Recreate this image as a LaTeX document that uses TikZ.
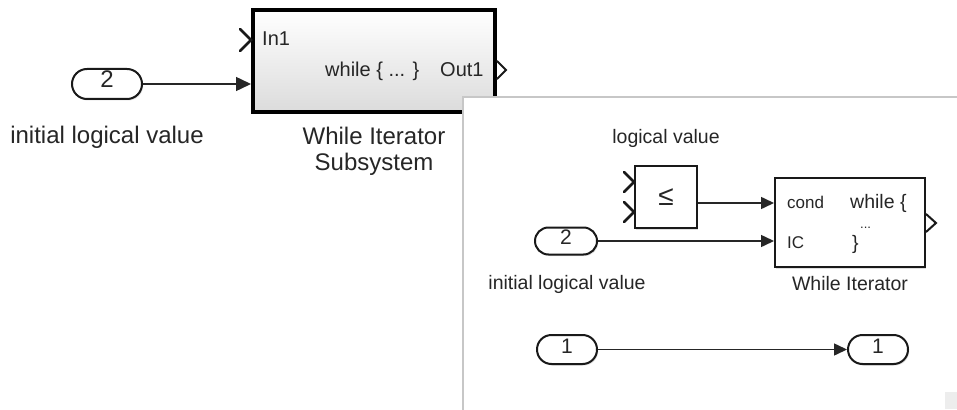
\documentclass[tikz,border=0pt]{standalone}
\usepackage{fontspec}
\setmainfont{Liberation Sans}
\usetikzlibrary{arrows.meta,shadows}
\newcommand\fsz[1]{\fontsize{#1}{#1}\selectfont}
\begin{document}
\begin{tikzpicture}[x=1pt,y=-1pt,
  lbl/.style={text=black!85, inner sep=0pt},
  pill/.style={draw=black!90, line width=2, fill=white, inner sep=0pt, text=black!85,
    text height=0.716em, text depth=0pt,
    drop shadow={shadow xshift=1.2pt, shadow yshift=-1.5pt, opacity=0.25}},
  blk/.style={draw=black!90, line width=2, fill=white, inner sep=0pt,
    drop shadow={shadow xshift=1.2pt, shadow yshift=-1.5pt, opacity=0.25}},
  conn/.style={draw=black!85, line width=1.5, -{Triangle[length=13pt,width=12pt]}},
  connL/.style={draw=black!85, line width=1.5, -{Triangle[length=15pt,width=14pt]}},
  chev/.style={draw=black!90, line width=2.8, line cap=round, line join=miter},
]
\fill[white] (0,0) rectangle (957,409);
\useasboundingbox (0,0) rectangle (957,409);

% ---------- left part ----------
\node[pill, minimum width=70, minimum height=30, rounded corners=15, font=\fsz{24}] (cL) at (107,84) {2};
\node[lbl, anchor=base, font=\fsz{24}] (labL) at (107,143) {initial logical value};

\node[draw=black, line width=4, minimum width=242, minimum height=102, inner sep=0,
      top color=white, bottom color=black!14] (sub) at (374,61) {};
\draw[connL] (cL.east) -- (cL.east -| sub.west);
\coordinate (subIn1) at (sub.west |- 0,40);
\draw[chev] (subIn1) ++(-11,-11) -- (subIn1) -- ++(-11,11);
\coordinate (subOut) at (sub.east |- 0,70);
\draw[chev, line width=2] (subOut) ++(0,-9) -- ++(9,9) -- ++(-9,9);
\node[lbl, anchor=base west, font=\fsz{20}] (in1) at (262,46) {In1};
\node[lbl, anchor=base west, font=\fsz{20}] (whl) at (325,77) {while \{ ... \}};
\node[lbl, anchor=base west, font=\fsz{20}] (out1) at (440,77) {Out1};
\node[lbl, anchor=base, font=\fsz{24}] (subl1) at (374,144) {While Iterator};
\node[lbl, anchor=base, font=\fsz{24}] (subl2) at (374,170) {Subsystem};

% ---------- inset panel ----------
\draw[draw=black!22, line width=2, fill=white] (463,97) rectangle (962,414);
\fill[black!7] (945,392) rectangle (957,409);

\node[lbl, anchor=base, font=\fsz{19.5}] (lv) at (666,143) {logical value};
\node[blk, minimum width=62, minimum height=62, font=\fsz{28}, text=black!85] (rel) at (666,197) {≤};
\coordinate (relIn1) at (rel.west |- 0,182);
\coordinate (relIn2) at (rel.west |- 0,212);
\draw[chev] (relIn1) ++(-10,-10) -- (relIn1) -- ++(-10,10);
\draw[chev] (relIn2) ++(-10,-10) -- (relIn2) -- ++(-10,10);

\node[blk, minimum width=150, minimum height=89] (wi) at (850,222.5) {};
\coordinate (wiCond) at (wi.west |- 0,203);
\coordinate (wiIC) at (wi.west |- 0,241);
\coordinate (wiOut) at (wi.east |- 0,223);
\draw[chev, line width=2] (wiOut) ++(0,-9) -- ++(10,9) -- ++(-10,9);
\draw[conn] (rel.east |- wiCond) -- (wiCond);

\node[pill, minimum width=62, minimum height=27, rounded corners=13.5, font=\fsz{21}] (c2) at (566,241) {2};
\draw[conn] (c2.east) -- (wiIC);
\node[lbl, anchor=base, font=\fsz{19.5}] (labR) at (567,289) {initial logical value};

\node[lbl, anchor=base west, font=\fsz{17}] (cond) at (787,208) {cond};
\node[lbl, anchor=base west, font=\fsz{17}] (ic) at (787,248) {IC};
\node[lbl, anchor=base west, font=\fsz{19.5}] (whi) at (850,208) {while \{};
\node[lbl, anchor=base west, font=\fsz{13}] (dots) at (860,228) {...};
\node[lbl, anchor=base west, font=\fsz{19.5}] (brc) at (852,249) {\}};
\node[lbl, anchor=base, font=\fsz{19.5}] (wil) at (850,290) {While Iterator};

\node[pill, minimum width=60, minimum height=29, rounded corners=14.5, font=\fsz{21}] (c1a) at (567,349.5) {1};
\node[pill, minimum width=60, minimum height=29, rounded corners=14.5, font=\fsz{21}] (c1b) at (878,349.5) {1};
\draw[conn] (c1a.east) -- (c1b.west);
\end{tikzpicture}
\end{document}
